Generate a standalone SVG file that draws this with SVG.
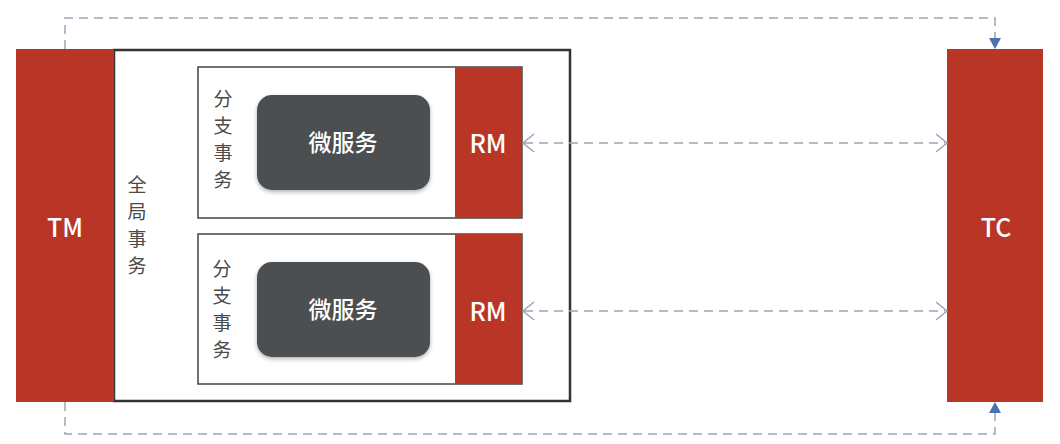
<svg xmlns="http://www.w3.org/2000/svg" width="1060" height="444" viewBox="0 0 1060 444">
<style>
.red{fill:#b93526;}
.lbl{font-family:"Noto Sans CJK SC","Noto Sans",sans-serif;fill:#ffffff;text-anchor:middle;}
.vt{font-family:"Noto Sans CJK SC","Noto Sans",sans-serif;fill:#4a4a4a;font-size:19px;text-anchor:middle;}
.dash{fill:none;stroke:#9aa4b6;stroke-width:1.5;stroke-dasharray:9 6;}
.chev{fill:none;stroke:#9aa4b6;stroke-width:1.5;}
.blue{fill:#4a72b0;}
</style>
<defs>
<filter id="sh" x="-10%" y="-10%" width="120%" height="130%">
<feDropShadow dx="0" dy="2" stdDeviation="2" flood-color="#000" flood-opacity="0.3"/>
</filter>
</defs>
<rect width="1060" height="444" fill="#ffffff"/>
<g id="global">
<rect x="114" y="50" width="456" height="351" fill="none" stroke="#333" stroke-width="2.5"/>
<text class="vt" x="137" y="192">全</text>
<text class="vt" x="137" y="219">局</text>
<text class="vt" x="137" y="246">事</text>
<text class="vt" x="137" y="273">务</text>
</g>
<g id="TM">
<rect class="red" x="16" y="49" width="98" height="353"/>
<text class="lbl" x="65" y="237" font-size="25" font-weight="500">TM</text>
</g>
<g id="branch1">
<rect x="198" y="67" width="324" height="151" fill="#fff" stroke="#444" stroke-width="1.5"/>
<text class="vt" x="223" y="106">分</text>
<text class="vt" x="223" y="133">支</text>
<text class="vt" x="223" y="160">事</text>
<text class="vt" x="223" y="187">务</text>
</g>
<g id="ms1">
<rect x="257" y="95" width="173" height="95" rx="15" fill="#4b4f51" filter="url(#sh)"/>
<text class="lbl" x="343" y="151" font-size="23" font-weight="500">微服务</text>
</g>
<g id="RM1">
<rect class="red" x="455" y="67" width="67" height="151"/>
<text class="lbl" x="488" y="153" font-size="25" font-weight="500">RM</text>
</g>
<g id="branch2">
<rect x="198" y="234" width="324" height="150" fill="#fff" stroke="#444" stroke-width="1.5"/>
<text class="vt" x="222" y="276">分</text>
<text class="vt" x="222" y="303">支</text>
<text class="vt" x="222" y="330">事</text>
<text class="vt" x="222" y="357">务</text>
</g>
<g id="ms2">
<rect x="257" y="262" width="173" height="95" rx="15" fill="#4b4f51" filter="url(#sh)"/>
<text class="lbl" x="343" y="318" font-size="23" font-weight="500">微服务</text>
</g>
<g id="RM2">
<rect class="red" x="455" y="234" width="67" height="150"/>
<text class="lbl" x="488" y="321" font-size="25" font-weight="500">RM</text>
</g>
<g id="TC">
<rect class="red" x="947" y="49" width="96" height="353"/>
<text class="lbl" x="996" y="237" font-size="25" font-weight="500">TC</text>
</g>
<g id="connectors">
<path class="dash" d="M65,49 V18 H995 V40"/>
<path class="blue" d="M995,49 L989,38 L1001,38 Z"/>
<path class="dash" d="M65,402 V434 H995 V412"/>
<path class="blue" d="M995,402 L989,413 L1001,413 Z"/>
<line class="dash" x1="524" y1="143" x2="945" y2="143"/>
<path class="chev" d="M534,134 L523,143 L534,152"/>
<path class="chev" d="M936,134 L947,143 L936,152"/>
<line class="dash" x1="524" y1="311" x2="945" y2="311"/>
<path class="chev" d="M534,302 L523,311 L534,320"/>
<path class="chev" d="M936,302 L947,311 L936,320"/>
</g>
</svg>
